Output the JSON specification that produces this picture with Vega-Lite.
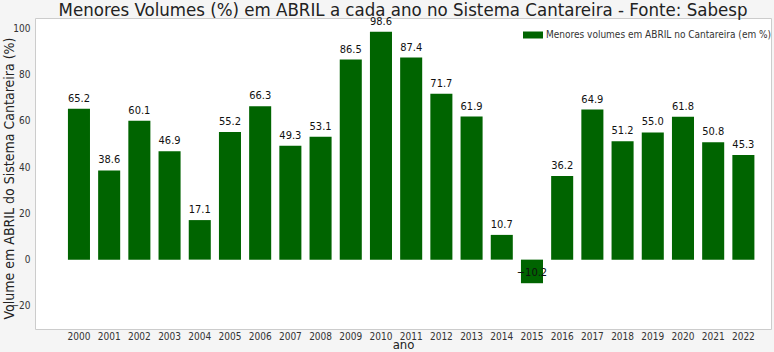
{
  "$schema": "https://vega.github.io/schema/vega-lite/v6.json",
  "width": 736,
  "height": 311,
  "autosize": {"type": "none"},
  "padding": {"left": 35, "top": 18, "right": 3, "bottom": 23},
  "background": "#f5f5f5",
  "config": {
    "font": "DejaVu Sans Condensed",
    "view": {"fill": "white", "stroke": "#cccccc"},
    "axis": {"grid": false, "ticks": false, "domain": false, "labelColor": "#333333", "labelFontSize": 10, "titleFontWeight": "normal", "titleColor": "#222222", "titleFontSize": 13}
  },
  "title": {"text": "Menores Volumes (%) em ABRIL a cada ano no Sistema Cantareira  - Fonte: Sabesp", "fontSize": 18.5, "fontWeight": "normal", "color": "#222222", "anchor": "middle", "offset": 0, "dy": 4},
  "data": {"values": [
    {"ano": "2000", "volume": 65.2, "serie": "Menores volumes em ABRIL no Cantareira (em %)"},
    {"ano": "2001", "volume": 38.6, "serie": "Menores volumes em ABRIL no Cantareira (em %)"},
    {"ano": "2002", "volume": 60.1, "serie": "Menores volumes em ABRIL no Cantareira (em %)"},
    {"ano": "2003", "volume": 46.9, "serie": "Menores volumes em ABRIL no Cantareira (em %)"},
    {"ano": "2004", "volume": 17.1, "serie": "Menores volumes em ABRIL no Cantareira (em %)"},
    {"ano": "2005", "volume": 55.2, "serie": "Menores volumes em ABRIL no Cantareira (em %)"},
    {"ano": "2006", "volume": 66.3, "serie": "Menores volumes em ABRIL no Cantareira (em %)"},
    {"ano": "2007", "volume": 49.3, "serie": "Menores volumes em ABRIL no Cantareira (em %)"},
    {"ano": "2008", "volume": 53.1, "serie": "Menores volumes em ABRIL no Cantareira (em %)"},
    {"ano": "2009", "volume": 86.5, "serie": "Menores volumes em ABRIL no Cantareira (em %)"},
    {"ano": "2010", "volume": 98.6, "serie": "Menores volumes em ABRIL no Cantareira (em %)"},
    {"ano": "2011", "volume": 87.4, "serie": "Menores volumes em ABRIL no Cantareira (em %)"},
    {"ano": "2012", "volume": 71.7, "serie": "Menores volumes em ABRIL no Cantareira (em %)"},
    {"ano": "2013", "volume": 61.9, "serie": "Menores volumes em ABRIL no Cantareira (em %)"},
    {"ano": "2014", "volume": 10.7, "serie": "Menores volumes em ABRIL no Cantareira (em %)"},
    {"ano": "2015", "volume": -10.2, "serie": "Menores volumes em ABRIL no Cantareira (em %)"},
    {"ano": "2016", "volume": 36.2, "serie": "Menores volumes em ABRIL no Cantareira (em %)"},
    {"ano": "2017", "volume": 64.9, "serie": "Menores volumes em ABRIL no Cantareira (em %)"},
    {"ano": "2018", "volume": 51.2, "serie": "Menores volumes em ABRIL no Cantareira (em %)"},
    {"ano": "2019", "volume": 55.0, "serie": "Menores volumes em ABRIL no Cantareira (em %)"},
    {"ano": "2020", "volume": 61.8, "serie": "Menores volumes em ABRIL no Cantareira (em %)"},
    {"ano": "2021", "volume": 50.8, "serie": "Menores volumes em ABRIL no Cantareira (em %)"},
    {"ano": "2022", "volume": 45.3, "serie": "Menores volumes em ABRIL no Cantareira (em %)"}
  ]},
  "encoding": {
    "x": {"field": "ano", "type": "ordinal", "title": "ano", "scale": {"paddingInner": 0.27, "paddingOuter": 0.82, "align": 0.665},
      "axis": {"labelAngle": 0, "labelPadding": 2, "titlePadding": -3, "titleFontSize": 13}},
    "y": {"field": "volume", "type": "quantitative", "title": "Volume em ABRIL do Sistema Cantareira (%)",
      "scale": {"domain": [-30, 104.5], "nice": false, "zero": false},
      "axis": {"values": [-20, 0, 20, 40, 60, 80, 100], "labelPadding": 5, "titleFontSize": 14, "titleX": -19, "titleY": 160}}
  },
  "layer": [
    {"mark": {"type": "bar"},
     "encoding": {"color": {"field": "serie", "type": "nominal", "title": null,
        "scale": {"range": ["#006400"]},
        "legend": {"orient": "none", "legendX": 484, "legendY": 3, "symbolType": "M-1,-0.35H1V0.35H-1Z", "symbolSize": 400, "symbolStrokeWidth": 0, "labelFontSize": 10, "labelOffset": 3, "labelColor": "#333333", "labelLimit": 400, "padding": 4}}}},
    {"mark": {"type": "text", "dy": -10, "baseline": "middle", "fontSize": 11, "color": "#111111"},
     "encoding": {"text": {"field": "volume", "type": "quantitative", "format": ".1f"}}}
  ]
}
